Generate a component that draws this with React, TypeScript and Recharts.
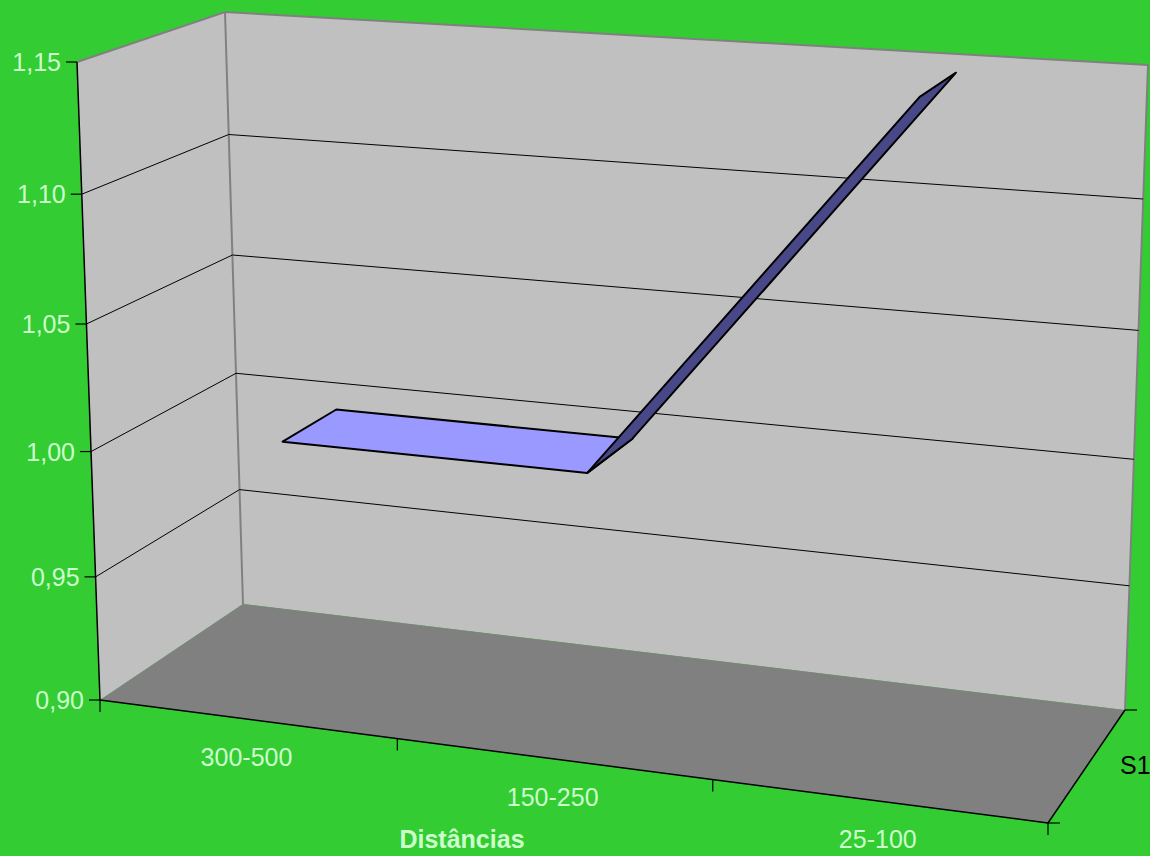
import React from 'react';
import { CartesianGrid, Line, LineChart, XAxis, YAxis } from 'recharts';

const distances = ['300-500', '150-250', '25-100'];
const ratios = [1.0, 1.0, 1.15];
const valueTicks = [0.9, 0.95, 1.0, 1.05, 1.1, 1.15];
const seriesName = 'S1';

const rows = distances.map((dist, i) => ({ dist, ratio: ratios[i] }));

const W = 1150;
const H = 856;
const PAD = W / 6;
// axes need a non-zero size to be drawn at all
const AXIS = 1;

const TEXT = '#CCFFCC';
const FONT = '"Liberation Sans", Arial, sans-serif';
const FONT_SIZE = 25;

type Pt = [number, number];

// screen corners of the box: bottom-left, bottom-right, top-right, top-left
const FRONT: Pt[] = [[100, 700], [1048, 823], [1070, 128], [77, 62]];
const BACK: Pt[] = [[243, 604], [1125, 710], [1148, 65], [225, 12]];
const DEPTH_RATIO = 1.078;
const Z_NEAR = 0.3;
const Z_FAR = 0.7;

function quadMap(q: Pt[]) {
  const [[x0, y0], [x1, y1], [x2, y2], [x3, y3]] = q;
  const dx1 = x1 - x2, dx2 = x3 - x2, sx = x0 - x1 + x2 - x3;
  const dy1 = y1 - y2, dy2 = y3 - y2, sy = y0 - y1 + y2 - y3;
  const den = dx1 * dy2 - dx2 * dy1;
  const g = (sx * dy2 - dx2 * sy) / den;
  const h = (dx1 * sy - sx * dy1) / den;
  const a = x1 - x0 + g * x1, b = x3 - x0 + h * x3;
  const d = y1 - y0 + g * y1, e = y3 - y0 + h * y3;
  return (u: number, v: number): Pt => {
    const w = g * u + h * v + 1;
    return [(a * u + b * v + x0) / w, (d * u + e * v + y0) / w];
  };
}

const frontPlane = quadMap(FRONT);
const backPlane = quadMap(BACK);

// u: across categories, v: value fraction, z: 0 front .. 1 back
function project(u: number, v: number, z: number): Pt {
  const f = frontPlane(u, v);
  const b = backPlane(u, v);
  const wf = 1 - z;
  const wb = z * DEPTH_RATIO;
  const s = wf + wb;
  return [(wf * f[0] + wb * b[0]) / s, (wf * f[1] + wb * b[1]) / s];
}

// chart plot area runs from x = AXIS to AXIS + W and y = 0 to H
const toU = (x: number) => (x - AXIS) / W;
const toV = (y: number) => 1 - y / H;
const pts = (list: Pt[]) => list.map((p) => `${p[0].toFixed(1)},${p[1].toFixed(1)}`).join(' ');
const fmt = (n: number) => n.toFixed(2).replace('.', ',');

function GridLine(props: any) {
  const v = toV(props.y1);
  if (!(v > 0.001 && v < 0.999)) return <g key={props.key} />;
  return (
    <polyline
      key={props.key}
      points={pts([project(0, v, 0), project(0, v, 1), project(1, v, 1)])}
      fill="none"
      stroke="#000"
      strokeWidth={1}
    />
  );
}

function ValueTick(props: any) {
  const { payload } = props;
  const coord = payload.coordinate ?? props.y;
  const [x, y] = project(0, toV(coord), 0);
  return (
    <g>
      <line x1={x - 11} y1={y} x2={x} y2={y} stroke="#000" strokeWidth={1.2} />
      <text x={x - 16} y={y + 9} textAnchor="end" fill={TEXT} fontSize={FONT_SIZE} fontFamily={FONT}>
        {fmt(payload.value)}
      </text>
    </g>
  );
}

function CategoryTick(props: any) {
  const { payload } = props;
  const u = toU(payload.coordinate ?? props.x);
  const half = PAD / W;
  const edges = payload.value === distances[distances.length - 1] ? [u - half, u + half] : [u - half];
  const [x, y] = project(u, 0, 0);
  return (
    <g>
      {edges.map((e) => {
        const [ex, ey] = project(e, 0, 0);
        return <line key={e} x1={ex} y1={ey} x2={ex} y2={ey + 12} stroke="#000" strokeWidth={1.2} />;
      })}
      <text x={x} y={y + 47} textAnchor="middle" fill={TEXT} fontSize={FONT_SIZE} fontFamily={FONT}>
        {payload.value}
      </text>
    </g>
  );
}

function faceColor(rise: number, run: number) {
  const s = (rise * 0.67) / run;
  const t = Math.abs(s) / Math.sqrt(1 + s * s);
  const mix = (a: number, b: number) => Math.round(a + (b - a) * t);
  return `rgb(${mix(153, 48)},${mix(153, 48)},${mix(255, 100)})`;
}

const seen: Pt[] = [];
function Ribbon(props: any) {
  const { index, cx, cy, points } = props;
  seen[index] = [cx, cy];
  if (index !== ratios.length - 1) return <g key={`rib-${index}`} />;
  const line: Pt[] = points ? points.map((p: any) => [p.x, p.y]) : seen;
  const faces = [];
  for (let i = 0; i < line.length - 1; i++) {
    const u0 = toU(line[i][0]), v0 = toV(line[i][1]);
    const u1 = toU(line[i + 1][0]), v1 = toV(line[i + 1][1]);
    faces.push(
      <polygon
        key={i}
        points={pts([project(u0, v0, Z_NEAR), project(u1, v1, Z_NEAR), project(u1, v1, Z_FAR), project(u0, v0, Z_FAR)])}
        fill={faceColor(v1 - v0, u1 - u0)}
        stroke="#000"
        strokeWidth={2}
        strokeLinejoin="round"
      />,
    );
  }
  return <g key="ribbon">{faces}</g>;
}

function Box() {
  const fl = project(0, 0, 0), fr = project(1, 0, 0);
  const bl = project(0, 0, 1), br = project(1, 0, 1);
  const tlf = project(0, 1, 0), tlb = project(0, 1, 1), trb = project(1, 1, 1);
  return (
    <svg width={W} height={H} style={{ position: 'absolute', left: 0, top: 0 }}>
      <polygon points={pts([fl, tlf, tlb, bl])} fill="#C0C0C0" />
      <polygon points={pts([bl, br, trb, tlb])} fill="#C0C0C0" />
      <polygon points={pts([fl, fr, br, bl])} fill="#808080" />
      <polyline points={pts([tlf, tlb, trb, br])} fill="none" stroke="#808080" strokeWidth={2} />
      <line x1={bl[0]} y1={bl[1]} x2={tlb[0]} y2={tlb[1]} stroke="#808080" strokeWidth={2} />
      <line x1={fl[0]} y1={fl[1]} x2={tlf[0]} y2={tlf[1]} stroke="#000" strokeWidth={1.5} />
      <line x1={fl[0]} y1={fl[1]} x2={fr[0]} y2={fr[1]} stroke="#000" strokeWidth={1.5} />
      <line x1={fr[0]} y1={fr[1]} x2={br[0]} y2={br[1]} stroke="#000" strokeWidth={1.5} />
      <line x1={fr[0]} y1={fr[1]} x2={fr[0] + 12} y2={fr[1]} stroke="#000" strokeWidth={1.2} />
      <line x1={br[0]} y1={br[1]} x2={br[0] + 12} y2={br[1]} stroke="#000" strokeWidth={1.2} />
      <text x={1120} y={774} fill="#000" fontSize={FONT_SIZE} fontFamily={FONT}>
        {seriesName}
      </text>
      <text x={462} y={848} textAnchor="middle" fill={TEXT} fontSize={FONT_SIZE} fontWeight="bold" fontFamily={FONT}>
        Distâncias
      </text>
    </svg>
  );
}

export default function App() {
  return (
    <div style={{ position: 'absolute', left: 0, top: 0, width: W, height: H, background: '#33CC33', overflow: 'hidden' }}>
      <Box />
      <div style={{ position: 'absolute', left: 0, top: 0 }}>
        <LineChart width={W + AXIS} height={H + AXIS} data={rows} margin={{ top: 0, right: 0, bottom: 0, left: 0 }}>
          <CartesianGrid vertical={false} horizontal={GridLine} />
          <XAxis
            dataKey="dist"
            scale="point"
            padding={{ left: PAD, right: PAD }}
            height={AXIS}
            axisLine={false}
            tickLine={false}
            interval={0}
            tick={CategoryTick}
          />
          <YAxis
            type="number"
            domain={[0.9, 1.15]}
            ticks={valueTicks}
            width={AXIS}
            axisLine={false}
            tickLine={false}
            interval={0}
            tick={ValueTick}
          />
          <Line
            dataKey="ratio"
            name={seriesName}
            stroke="none"
            dot={Ribbon}
            activeDot={false}
            isAnimationActive={false}
          />
        </LineChart>
      </div>
    </div>
  );
}
